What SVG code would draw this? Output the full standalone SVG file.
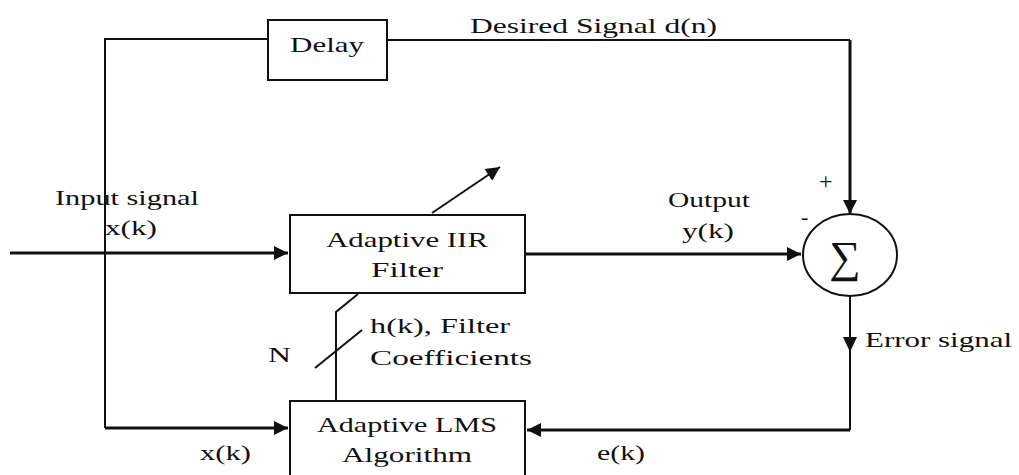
<svg xmlns="http://www.w3.org/2000/svg" width="1019" height="475" viewBox="0 0 1019 475">
<style>
.box{fill:#fff;stroke:#111;stroke-width:2}
.ln{fill:none;stroke:#111;stroke-width:2}
.thk{fill:none;stroke:#111;stroke-width:3}
text{font-family:"Liberation Serif","DejaVu Serif",serif;font-size:21px;fill:#111}
</style>
<defs>
<marker id="ahb" viewBox="0 0 10 10" refX="10" refY="5" markerWidth="16" markerHeight="14" markerUnits="userSpaceOnUse" orient="auto">
<path d="M0,0 L10,5 L0,10 z" fill="#111"/>
</marker>
</defs>
<rect width="1019" height="475" fill="#fff"/>
<g id="connectors">
<path class="ln" d="M268,39 H105 V428"/>
<path class="thk" d="M105,428 H288" marker-end="url(#ahb)"/>
<path class="ln" d="M387,40 H850"/>
<path class="thk" d="M850,40 V214" marker-end="url(#ahb)"/>
<path class="thk" d="M10,253 H288" marker-end="url(#ahb)"/>
<path class="thk" d="M525,254 H801" marker-end="url(#ahb)"/>
<path class="ln" d="M850,296 V430"/>
<path d="M843,337 L857,337 L850,352 z" fill="#111"/>
<path class="thk" d="M850,430 H527" marker-end="url(#ahb)"/>
<path class="ln" d="M336,401 V312 L358,294"/>
<path class="ln" d="M315,368 L362,330"/>
<path class="ln" d="M432,213 L500,167" marker-end="url(#ahb)"/>
</g>
<g id="delay">
<rect class="box" x="268" y="20" width="119" height="60"/>
<text x="327" y="52" text-anchor="middle" textLength="74" lengthAdjust="spacingAndGlyphs">Delay</text>
</g>
<g id="iir">
<rect class="box" x="290" y="215" width="235" height="78"/>
<text x="407" y="247" text-anchor="middle" textLength="162" lengthAdjust="spacingAndGlyphs">Adaptive IIR</text>
<text x="407" y="277" text-anchor="middle" textLength="72" lengthAdjust="spacingAndGlyphs">Filter</text>
</g>
<g id="lms">
<rect class="box" x="290" y="401" width="235" height="80"/>
<text x="407" y="432" text-anchor="middle" textLength="180" lengthAdjust="spacingAndGlyphs">Adaptive LMS</text>
<text x="407" y="462" text-anchor="middle" textLength="130" lengthAdjust="spacingAndGlyphs">Algorithm</text>
</g>
<g id="sum">
<ellipse cx="850" cy="255" rx="47" ry="41" fill="#fff" stroke="#111" stroke-width="2"/>
<text x="845" y="272" text-anchor="middle" style="font-size:44px">∑</text>
</g>
<g id="labels">
<text x="470" y="33" textLength="247" lengthAdjust="spacingAndGlyphs">Desired Signal d(n)</text>
<text x="55" y="205" textLength="144" lengthAdjust="spacingAndGlyphs">Input signal</text>
<text x="105" y="235" textLength="52" lengthAdjust="spacingAndGlyphs">x(k)</text>
<text x="668" y="207" textLength="82" lengthAdjust="spacingAndGlyphs">Output</text>
<text x="682" y="238" textLength="52" lengthAdjust="spacingAndGlyphs">y(k)</text>
<text x="819" y="189" style="font-size:24px">+</text>
<text x="801" y="224" style="font-size:22px">-</text>
<text x="268" y="362" textLength="23" lengthAdjust="spacingAndGlyphs">N</text>
<text x="370" y="333" textLength="140" lengthAdjust="spacingAndGlyphs">h(k), Filter</text>
<text x="370" y="365" textLength="162" lengthAdjust="spacingAndGlyphs">Coefficients</text>
<text x="865" y="347" textLength="147" lengthAdjust="spacingAndGlyphs">Error signal</text>
<text x="200" y="460" textLength="51" lengthAdjust="spacingAndGlyphs">x(k)</text>
<text x="597" y="460" textLength="48" lengthAdjust="spacingAndGlyphs">e(k)</text>
</g>
</svg>
